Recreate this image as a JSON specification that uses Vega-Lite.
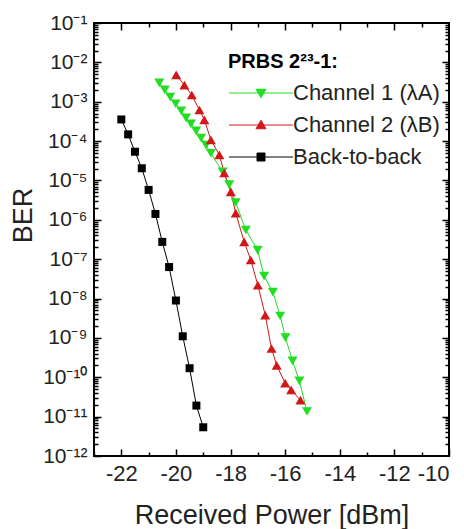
{
  "$schema": "https://vega.github.io/schema/vega-lite/v6.json",
  "width": 355,
  "height": 433,
  "autosize": {"type": "none"},
  "padding": {"left": 94, "top": 23, "right": 15, "bottom": 73},
  "background": "white",
  "config": {
    "view": {"stroke": "#000", "strokeWidth": 2},
    "font": "Liberation Sans",
    "axis": {"grid": false, "domain": false, "tickColor": "#000", "tickWidth": 1.5, "labelFont": "Liberation Sans", "titleFont": "Liberation Sans", "labelColor": "#222", "titleColor": "#222", "titleFontWeight": "normal"}
  },
  "data": {
    "values": [
      {"series": "Channel 1 (λA)", "power": -20.61, "ber": 3.02e-3},
      {"series": "Channel 1 (λA)", "power": -20.41, "ber": 2.0e-3},
      {"series": "Channel 1 (λA)", "power": -20.21, "ber": 1.32e-3},
      {"series": "Channel 1 (λA)", "power": -20.01, "ber": 8.9e-4},
      {"series": "Channel 1 (λA)", "power": -19.81, "ber": 5.9e-4},
      {"series": "Channel 1 (λA)", "power": -19.63, "ber": 3.9e-4},
      {"series": "Channel 1 (λA)", "power": -19.45, "ber": 2.75e-4},
      {"series": "Channel 1 (λA)", "power": -19.26, "ber": 1.82e-4},
      {"series": "Channel 1 (λA)", "power": -19.08, "ber": 1.2e-4},
      {"series": "Channel 1 (λA)", "power": -18.9, "ber": 7.9e-5},
      {"series": "Channel 1 (λA)", "power": -18.72, "ber": 4.9e-5},
      {"series": "Channel 1 (λA)", "power": -18.29, "ber": 1.66e-5},
      {"series": "Channel 1 (λA)", "power": -18.05, "ber": 7.8e-6},
      {"series": "Channel 1 (λA)", "power": -17.81, "ber": 2.75e-6},
      {"series": "Channel 1 (λA)", "power": -17.44, "ber": 5.5e-7},
      {"series": "Channel 1 (λA)", "power": -17.01, "ber": 1.7e-7},
      {"series": "Channel 1 (λA)", "power": -16.77, "ber": 3.7e-8},
      {"series": "Channel 1 (λA)", "power": -16.45, "ber": 1.45e-8},
      {"series": "Channel 1 (λA)", "power": -16.18, "ber": 3.6e-9},
      {"series": "Channel 1 (λA)", "power": -15.99, "ber": 1.02e-9},
      {"series": "Channel 1 (λA)", "power": -15.73, "ber": 2.6e-10},
      {"series": "Channel 1 (λA)", "power": -15.48, "ber": 8.1e-11},
      {"series": "Channel 1 (λA)", "power": -15.2, "ber": 1.35e-11},
      {"series": "Channel 2 (λB)", "power": -19.99, "ber": 4.79e-3},
      {"series": "Channel 2 (λB)", "power": -19.69, "ber": 2.63e-3},
      {"series": "Channel 2 (λB)", "power": -19.42, "ber": 1.48e-3},
      {"series": "Channel 2 (λB)", "power": -19.14, "ber": 6.17e-4},
      {"series": "Channel 2 (λB)", "power": -18.96, "ber": 3.47e-4},
      {"series": "Channel 2 (λB)", "power": -18.72, "ber": 1.07e-4},
      {"series": "Channel 2 (λB)", "power": -18.41, "ber": 4.47e-5},
      {"series": "Channel 2 (λB)", "power": -18.23, "ber": 1.55e-5},
      {"series": "Channel 2 (λB)", "power": -17.99, "ber": 5.13e-6},
      {"series": "Channel 2 (λB)", "power": -17.81, "ber": 1.48e-6},
      {"series": "Channel 2 (λB)", "power": -17.5, "ber": 2.75e-7},
      {"series": "Channel 2 (λB)", "power": -17.26, "ber": 9.55e-8},
      {"series": "Channel 2 (λB)", "power": -17.0, "ber": 2.19e-8},
      {"series": "Channel 2 (λB)", "power": -16.73, "ber": 3.8e-9},
      {"series": "Channel 2 (λB)", "power": -16.5, "ber": 5.37e-10},
      {"series": "Channel 2 (λB)", "power": -16.31, "ber": 2.0e-10},
      {"series": "Channel 2 (λB)", "power": -16.0, "ber": 7.08e-11},
      {"series": "Channel 2 (λB)", "power": -15.78, "ber": 4.79e-11},
      {"series": "Channel 2 (λB)", "power": -15.44, "ber": 2.63e-11},
      {"series": "Back-to-back", "power": -22.0, "ber": 3.55e-4},
      {"series": "Back-to-back", "power": -21.75, "ber": 1.48e-4},
      {"series": "Back-to-back", "power": -21.5, "ber": 5.37e-5},
      {"series": "Back-to-back", "power": -21.25, "ber": 2.04e-5},
      {"series": "Back-to-back", "power": -21.0, "ber": 5.75e-6},
      {"series": "Back-to-back", "power": -20.75, "ber": 1.41e-6},
      {"series": "Back-to-back", "power": -20.5, "ber": 2.75e-7},
      {"series": "Back-to-back", "power": -20.25, "ber": 6.31e-8},
      {"series": "Back-to-back", "power": -20.0, "ber": 8.91e-9},
      {"series": "Back-to-back", "power": -19.75, "ber": 1.1e-9},
      {"series": "Back-to-back", "power": -19.5, "ber": 1.7e-10},
      {"series": "Back-to-back", "power": -19.25, "ber": 1.91e-11},
      {"series": "Back-to-back", "power": -19.0, "ber": 5.37e-12}
    ]
  },
  "layer": [
    {
      "mark": {"type": "line", "strokeWidth": 1},
      "encoding": {
        "x": {"field": "power", "type": "quantitative",
          "scale": {"domain": [-23, -10], "nice": false, "zero": false},
          "axis": {"orient": "bottom", "values": [-22, -20, -18, -16, -14, -12, -10], "labelExpr": "'' + datum.value", "tickSize": -7, "labelFontSize": 22, "labelPadding": 14, "title": "Received Power [dBm]", "titleFontSize": 27, "titleY": 67, "titleBaseline": "alphabetic"}},
        "y": {"field": "ber", "type": "quantitative",
          "scale": {"type": "log", "domain": [1e-12, 0.1], "nice": false},
          "axis": {"orient": "left", "values": [1e-12, 1e-11, 1e-10, 1e-9, 1e-8, 1e-7, 1e-6, 1e-5, 1e-4, 1e-3, 1e-2, 1e-1],
            "labelExpr": "'10⁻' + (round(-log(datum.value)/LN10) >= 10 ? '¹' + substring('⁰¹²³⁴⁵⁶⁷⁸⁹', round(-log(datum.value)/LN10) - 10, round(-log(datum.value)/LN10) - 9) : substring('⁰¹²³⁴⁵⁶⁷⁸⁹', round(-log(datum.value)/LN10), round(-log(datum.value)/LN10) + 1))",
            "tickSize": -7, "labelFontSize": 21, "labelPadding": 14, "title": "BER", "titleFontSize": 27, "titleX": -71, "titleY": 192, "titleBaseline": "middle"}},
        "color": {"field": "series", "type": "nominal",
          "scale": {"domain": ["Channel 1 (λA)", "Channel 2 (λB)", "Back-to-back"], "range": ["#22dd22", "#d01818", "#000000"]},
          "legend": {
            "title": "PRBS 2²³-1:", "orient": "none", "legendX": 134, "legendY": 29, "padding": 0,
            "titleFont": "Liberation Sans", "titleFontSize": 20, "titleFontWeight": "bold", "titleColor": "#000", "titlePadding": 10,
            "labelFont": "Liberation Sans", "labelFontSize": 22, "labelColor": "#222", "labelOffset": 53,
            "symbolSize": 100, "symbolStrokeWidth": 1, "symbolOffset": -10, "rowPadding": 10,
            "encode": {"symbols": {"update": {
              "shape": {"signal": "datum.value === 'Back-to-back' ? 'M0,0H12.8M5.6,-0.8H7.2V0.8H5.6Z' : (datum.value === 'Channel 2 (λB)' ? 'M0,0H12.8M5.4,0.75H7.4L6.4,-0.95Z' : 'M0,0H12.8M5.4,-0.75H7.4L6.4,0.95Z')"},
              "fill": {"scale": "color", "field": "value"},
              "stroke": {"scale": "color", "field": "value"},
              "strokeWidth": {"value": 1}
            }}}
          }}
      }
    },
    {
      "transform": [{"filter": "datum.series === 'Channel 1 (λA)'"}],
      "mark": {"type": "point", "filled": true, "opacity": 1, "shape": "triangle-down", "size": 100, "color": "#22dd22"},
      "encoding": {
        "x": {"field": "power", "type": "quantitative",
          "axis": {"orient": "bottom", "values": [-23, -21, -19, -17, -15, -13, -11], "labels": false, "tickSize": -4, "title": null}},
        "y": {"field": "ber", "type": "quantitative",
          "axis": {"orient": "left", "labels": false, "tickSize": -4, "title": null,
            "values": [2e-12,3e-12,4e-12,5e-12,6e-12,7e-12,8e-12,9e-12,2e-11,3e-11,4e-11,5e-11,6e-11,7e-11,8e-11,9e-11,2e-10,3e-10,4e-10,5e-10,6e-10,7e-10,8e-10,9e-10,2e-9,3e-9,4e-9,5e-9,6e-9,7e-9,8e-9,9e-9,2e-8,3e-8,4e-8,5e-8,6e-8,7e-8,8e-8,9e-8,2e-7,3e-7,4e-7,5e-7,6e-7,7e-7,8e-7,9e-7,2e-6,3e-6,4e-6,5e-6,6e-6,7e-6,8e-6,9e-6,2e-5,3e-5,4e-5,5e-5,6e-5,7e-5,8e-5,9e-5,2e-4,3e-4,4e-4,5e-4,6e-4,7e-4,8e-4,9e-4,2e-3,3e-3,4e-3,5e-3,6e-3,7e-3,8e-3,9e-3,2e-2,3e-2,4e-2,5e-2,6e-2,7e-2,8e-2,9e-2]}}
      }
    },
    {
      "transform": [{"filter": "datum.series === 'Channel 2 (λB)'"}],
      "mark": {"type": "point", "filled": true, "opacity": 1, "shape": "triangle-up", "size": 100, "color": "#d01818"},
      "encoding": {
        "x": {"field": "power", "type": "quantitative", "axis": null},
        "y": {"field": "ber", "type": "quantitative", "axis": null}
      }
    },
    {
      "transform": [{"filter": "datum.series === 'Back-to-back'"}],
      "mark": {"type": "point", "filled": true, "opacity": 1, "shape": "square", "size": 64, "color": "#000000"},
      "encoding": {
        "x": {"field": "power", "type": "quantitative", "axis": null},
        "y": {"field": "ber", "type": "quantitative", "axis": null}
      }
    },
    {
      "mark": {"type": "point", "opacity": 0},
      "encoding": {
        "x": {"field": "power", "type": "quantitative",
          "axis": {"orient": "top", "values": [-22, -20, -18, -16, -14, -12], "labels": false, "tickSize": -7, "title": null}},
        "y": {"field": "ber", "type": "quantitative",
          "axis": {"orient": "right", "values": [1e-11, 1e-10, 1e-9, 1e-8, 1e-7, 1e-6, 1e-5, 1e-4, 1e-3, 1e-2], "labels": false, "tickSize": -7, "title": null}}
      }
    },
    {
      "mark": {"type": "point", "opacity": 0},
      "encoding": {
        "x": {"field": "power", "type": "quantitative",
          "axis": {"orient": "top", "values": [-23, -21, -19, -17, -15, -13, -11], "labels": false, "tickSize": -4, "title": null}},
        "y": {"field": "ber", "type": "quantitative",
          "axis": {"orient": "right", "labels": false, "tickSize": -4, "title": null,
            "values": [2e-12,3e-12,4e-12,5e-12,6e-12,7e-12,8e-12,9e-12,2e-11,3e-11,4e-11,5e-11,6e-11,7e-11,8e-11,9e-11,2e-10,3e-10,4e-10,5e-10,6e-10,7e-10,8e-10,9e-10,2e-9,3e-9,4e-9,5e-9,6e-9,7e-9,8e-9,9e-9,2e-8,3e-8,4e-8,5e-8,6e-8,7e-8,8e-8,9e-8,2e-7,3e-7,4e-7,5e-7,6e-7,7e-7,8e-7,9e-7,2e-6,3e-6,4e-6,5e-6,6e-6,7e-6,8e-6,9e-6,2e-5,3e-5,4e-5,5e-5,6e-5,7e-5,8e-5,9e-5,2e-4,3e-4,4e-4,5e-4,6e-4,7e-4,8e-4,9e-4,2e-3,3e-3,4e-3,5e-3,6e-3,7e-3,8e-3,9e-3,2e-2,3e-2,4e-2,5e-2,6e-2,7e-2,8e-2,9e-2]}}
      }
    }
  ],
  "resolve": {"axis": {"x": "independent", "y": "independent"}}
}
